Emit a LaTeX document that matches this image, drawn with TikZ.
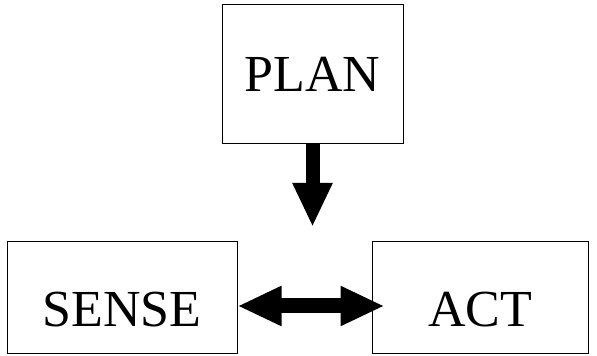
\documentclass[tikz,border=0pt]{standalone}
\usepackage{fontspec}
\setmainfont{Liberation Serif}
\usetikzlibrary{arrows.meta,positioning}
\tikzset{
  box/.style  = {draw, line width=1pt, fill=white, inner sep=0pt,
                 font=\fontsize{52}{60}\selectfont},
  lowbox/.style = {box, minimum height=112pt, text height=57pt, text depth=0pt},
  vec/.style  = {-{Triangle[length=44pt,width=37pt]}, line width=14pt},
  dvec/.style = {{Triangle[length=44pt,width=37pt]}-{Triangle[length=44pt,width=37pt]},
                 line width=15pt},
}
\begin{document}
\begin{tikzpicture}[x=1pt,y=1pt]
  \useasboundingbox (0,0) rectangle (597,356);
  \node[box, minimum width=181pt, minimum height=139pt] (plan)  at (312.5,281.5) {PLAN};
  \node[lowbox, minimum width=230pt] (sense) at (122,58) {SENSE};
  \node[lowbox, minimum width=216pt] (act)   at (480,58) {ACT};
  % arrow ends
  \coordinate (plantip) at (312.5,129);
  \coordinate (sensetip) at ([yshift=-8pt]sense.east);
  \coordinate (acttip) at ([xshift=13pt,yshift=-8pt]act.west);
  \draw[vec] (plan.south) -- (plantip);
  \draw[dvec] (sensetip) -- (acttip);
\end{tikzpicture}
\end{document}
